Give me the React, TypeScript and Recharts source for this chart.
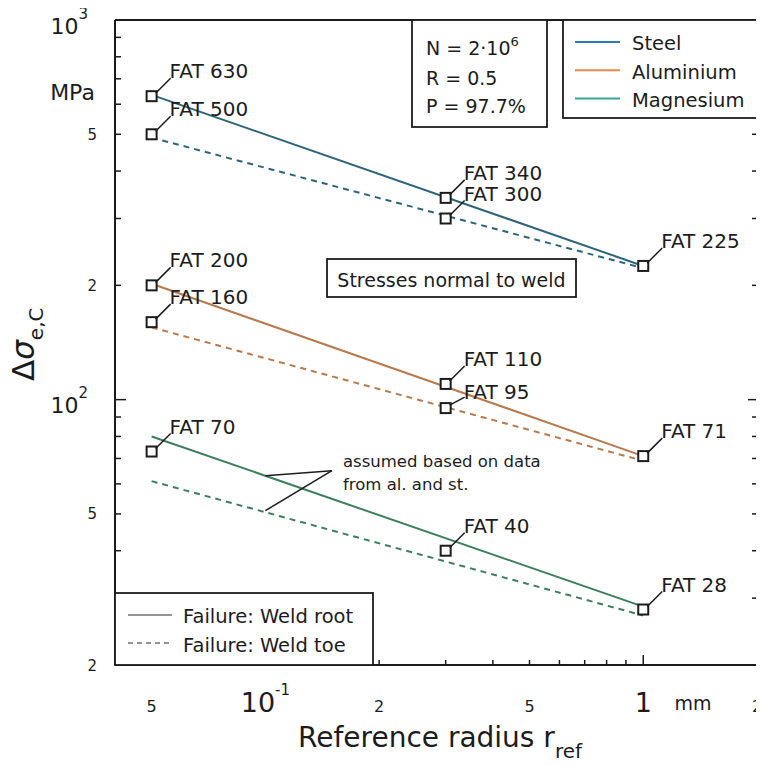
import React from "react";
import { ComposedChart, Line, Scatter, XAxis, YAxis, ReferenceLine } from "recharts";

const INK = "#1c1c1c";
const FONT = "'DejaVu Sans', sans-serif";

// axes (log-log)
const xDomain = [0.04, 2];
const yDomain = [20, 1000];
const xTicks = [0.05, 0.06, 0.07, 0.08, 0.09, 0.1, 0.2, 0.3, 0.4, 0.5, 0.6, 0.7, 0.8, 0.9, 1, 2];
const xMajor = [0.1, 1];
const xLabelValues = [0.05, 0.1, 0.2, 0.5, 1, 2];
const xLabelTexts = ["5", "10^-1", "2", "5", "1", "2"];
const yTicks = [20, 30, 40, 50, 60, 70, 80, 90, 100, 200, 300, 400, 500, 600, 700, 800, 900, 1000];
const yMajor = [100, 1000];
const yLabelValues = [20, 50, 100, 200, 500, 1000];
const yLabelTexts = ["2", "5", "10^2", "2", "5", "10^3"];

// S-N reference lines, r in mm, s in MPa
const steelRoot = [{ r: 0.05, s: 635 }, { r: 1, s: 225 }];
const steelToe = [{ r: 0.05, s: 490 }, { r: 1, s: 222 }];
const aluRoot = [{ r: 0.05, s: 202 }, { r: 1, s: 71 }];
const aluToe = [{ r: 0.05, s: 155 }, { r: 1, s: 69 }];
const magRoot = [{ r: 0.05, s: 80 }, { r: 1, s: 28.5 }];
const magToe = [{ r: 0.05, s: 61 }, { r: 1, s: 27 }];

// FAT classes
const steelFat = [
  { r: 0.05, s: 630, label: "FAT 630" },
  { r: 0.05, s: 500, label: "FAT 500" },
  { r: 0.3, s: 340, label: "FAT 340" },
  { r: 0.3, s: 300, label: "FAT 300" },
  { r: 1, s: 225, label: "FAT 225" },
];
const aluFat = [
  { r: 0.05, s: 200, label: "FAT 200" },
  { r: 0.05, s: 160, label: "FAT 160" },
  { r: 0.3, s: 110, label: "FAT 110" },
  { r: 0.3, s: 95, label: "FAT 95" },
  { r: 1, s: 71, label: "FAT 71" },
];
const magFat = [
  { r: 0.05, s: 73, label: "FAT 70" },
  { r: 0.3, s: 40, label: "FAT 40" },
  { r: 1, s: 28, label: "FAT 28" },
];
const shallowLabels = ["FAT 95"];

// leaders of the "assumed ..." note
const noteLeaders = [
  [{ r: 0.15, s: 65 }, { r: 0.1, s: 63 }],
  [{ r: 0.15, s: 65 }, { r: 0.1, s: 51 }],
];

const materials = ["Steel", "Aluminium", "Magnesium"];
const legendColors = ["#2b7bb9", "#f08a45", "#33a89a"];
const lineColors = { steel: "#2e6479", alu: "#b8794c", mag: "#3d7e5e" };

function powLabel(text: string, x: number, y: number, anchor: string, big: number, small: number, supDy: number) {
  const [base, exp] = text.split("^");
  return (
    <text x={x} y={y} textAnchor={anchor} fontSize={exp ? big : small} fill={INK} fontFamily={FONT}>
      <tspan>{base}</tspan>
      {exp && (
        <tspan dy={supDy} fontSize={15}>
          {exp}
        </tspan>
      )}
    </text>
  );
}

function BottomTick(props: any) {
  const { x, y, payload } = props;
  const v = payload.value;
  const idx = xLabelValues.indexOf(v);
  const big = xMajor.includes(v);
  const len = big ? 10 : 5;
  return (
    <g>
      {v < xDomain[1] && <line x1={x} y1={y} x2={x} y2={y - len} stroke={INK} strokeWidth={1.5} />}
      {idx >= 0 &&
        (big ? (
          powLabel(xLabelTexts[idx], x, y + 47, "middle", 27, 27, -17)
        ) : (
          <text x={x} y={y + 47} textAnchor="middle" fontSize={16} fill={INK} fontFamily={FONT}>
            {xLabelTexts[idx]}
          </text>
        ))}
    </g>
  );
}

function TopTick(props: any) {
  const { x, y, payload } = props;
  const v = payload.value;
  if (v >= xDomain[1]) return <g />;
  const len = xMajor.includes(v) ? 10 : 5;
  return <line x1={x} y1={y} x2={x} y2={y + len} stroke={INK} strokeWidth={1.5} />;
}

function LeftTick(props: any) {
  const { x, y, payload } = props;
  const v = payload.value;
  const idx = yLabelValues.indexOf(v);
  const len = yMajor.includes(v) ? 11 : 6;
  const text = idx >= 0 ? yLabelTexts[idx] : null;
  return (
    <g>
      {v > yDomain[0] && v < yDomain[1] && (
        <line x1={x} y1={y} x2={x + len} y2={y} stroke={INK} strokeWidth={1.5} />
      )}
      {text &&
        (text.includes("^")
          ? powLabel(text, x - 27, y + 13.5, "end", 22, 22, -15)
          : (
            <text x={x - 18} y={y + 5.5} textAnchor="end" fontSize={15} fill={INK} fontFamily={FONT}>
              {text}
            </text>
          ))}
    </g>
  );
}

function RightTick(props: any) {
  const { x, y, payload } = props;
  const v = payload.value;
  if (v <= yDomain[0] || v >= yDomain[1]) return <g />;
  const len = yMajor.includes(v) ? 9 : 5;
  return <line x1={x} y1={y} x2={x - len} y2={y} stroke={INK} strokeWidth={1.5} />;
}

function FatMarker(props: any) {
  const { cx, cy, payload } = props;
  if (cx == null || cy == null) return <g />;
  const low = shallowLabels.includes(payload.label);
  const ty = low ? cy - 9 : cy - 18;
  return (
    <g>
      <rect x={cx - 5} y={cy - 5} width={10} height={10} fill="#fff" stroke={INK} strokeWidth={2} />
      <line x1={cx + 4} y1={cy - 3} x2={cx + 19} y2={low ? cy - 11 : cy - 18} stroke={INK} strokeWidth={1.5} />
      <text x={cx + 18} y={ty} fontSize={20} fill={INK} fontFamily={FONT}>
        {payload.label}
      </text>
    </g>
  );
}

function Overlay() {
  const t = { fontFamily: FONT, fill: INK };
  return (
    <svg
      width={756}
      height={757}
      style={{ position: "absolute", left: 0, top: 0, pointerEvents: "none", overflow: "visible" }}
    >
      {/* parameters */}
      <rect x={404} y={12} width={135} height={107} fill="#fff" stroke={INK} strokeWidth={1.8} />
      <text x={418} y={47} fontSize={19} {...t}>
        N = 2·10<tspan dy={-9} fontSize={13}>6</tspan>
      </text>
      <text x={418} y={77} fontSize={19} {...t}>R = 0.5</text>
      <text x={418} y={105} fontSize={19} {...t}>P = 97.7%</text>

      {/* material legend */}
      <rect x={555} y={12} width={194} height={98} fill="#fff" stroke={INK} strokeWidth={1.8} />
      {materials.map((m, i) => (
        <g key={m}>
          <line x1={567} x2={612} y1={34 + i * 28.3} y2={34 + i * 28.3} stroke={legendColors[i]} strokeWidth={2} />
          <text x={624} y={42 + i * 28.5} fontSize={19.5} {...t}>{m}</text>
        </g>
      ))}

      {/* loading note */}
      <rect x={319} y={251} width={249} height={38} fill="#fff" stroke={INK} strokeWidth={1.8} />
      <text x={443.5} y={279} fontSize={19} textAnchor="middle" {...t}>Stresses normal to weld</text>

      {/* failure legend */}
      <rect x={107} y={585} width={258} height={72} fill="#fff" stroke={INK} strokeWidth={1.8} />
      <line x1={120} x2={164} y1={607} y2={607} stroke="#707070" strokeWidth={1.5} />
      <line x1={120} x2={164} y1={635} y2={635} stroke="#707070" strokeWidth={1.5} strokeDasharray="5 4" />
      <text x={175} y={615} fontSize={19.5} {...t}>Failure: Weld root</text>
      <text x={175} y={644} fontSize={19.5} {...t}>Failure: Weld toe</text>

      <text x={335} y={459} fontSize={16.5} {...t}>assumed based on data</text>
      <text x={335} y={482} fontSize={16.5} {...t}>from al. and st.</text>

      {/* units and titles */}
      <text x={64.5} y={92} fontSize={22} textAnchor="middle" {...t}>MPa</text>
      <text x={685} y={702} fontSize={19} textAnchor="middle" {...t}>mm</text>
      <text x={290} y={739} fontSize={28} {...t}>
        Reference radius r<tspan dy={11} fontSize={20}>ref</tspan>
      </text>
      <text transform="translate(26,373) rotate(-90)" fontSize={31} {...t}>
        Δ<tspan fontStyle="italic">σ</tspan>
        <tspan dy={9} fontSize={20}>e,C</tspan>
      </text>
    </svg>
  );
}

export default function App() {
  const axisLine = { stroke: INK, strokeWidth: 2 };
  return (
    <div style={{ position: "relative", width: 756, height: 757, fontFamily: FONT }}>
      <ComposedChart width={756} height={757} margin={{ top: 11, right: 6, bottom: 99, left: 106 }}>
        <XAxis
          dataKey="r"
          type="number"
          scale="log"
          domain={xDomain}
          allowDataOverflow
          ticks={xTicks}
          interval={0}
          tick={(p: any) => <BottomTick {...p} />}
          tickLine={false}
          tickSize={0}
          tickMargin={0}
          axisLine={axisLine}
          height={1}
        />
        <XAxis
          xAxisId="top"
          orientation="top"
          type="number"
          scale="log"
          domain={xDomain}
          allowDataOverflow
          ticks={xTicks}
          interval={0}
          tick={(p: any) => <TopTick {...p} />}
          tickLine={false}
          tickSize={0}
          tickMargin={0}
          axisLine={axisLine}
          height={1}
        />
        <YAxis
          dataKey="s"
          type="number"
          scale="log"
          domain={yDomain}
          allowDataOverflow
          ticks={yTicks}
          interval={0}
          tick={(p: any) => <LeftTick {...p} />}
          tickLine={false}
          tickSize={0}
          tickMargin={0}
          axisLine={axisLine}
          width={1}
        />
        <YAxis
          yAxisId="right"
          orientation="right"
          type="number"
          scale="log"
          domain={yDomain}
          allowDataOverflow
          ticks={yTicks}
          interval={0}
          tick={(p: any) => <RightTick {...p} />}
          tickLine={false}
          tickSize={0}
          tickMargin={0}
          axisLine={axisLine}
          width={1}
        />

        <Line data={steelRoot} dataKey="s" type="linear" stroke={lineColors.steel} strokeWidth={2} dot={false} isAnimationActive={false} />
        <Line data={steelToe} dataKey="s" type="linear" stroke={lineColors.steel} strokeWidth={2} strokeDasharray="6 5" dot={false} isAnimationActive={false} />
        <Line data={aluRoot} dataKey="s" type="linear" stroke={lineColors.alu} strokeWidth={2} dot={false} isAnimationActive={false} />
        <Line data={aluToe} dataKey="s" type="linear" stroke={lineColors.alu} strokeWidth={2} strokeDasharray="6 5" dot={false} isAnimationActive={false} />
        <Line data={magRoot} dataKey="s" type="linear" stroke={lineColors.mag} strokeWidth={2} dot={false} isAnimationActive={false} />
        <Line data={magToe} dataKey="s" type="linear" stroke={lineColors.mag} strokeWidth={2} strokeDasharray="6 5" dot={false} isAnimationActive={false} />

        {noteLeaders.map((seg, i) => (
          <ReferenceLine
            key={i}
            segment={seg.map((p) => ({ x: p.r, y: p.s }))}
            stroke={INK}
            strokeWidth={1.5}
            ifOverflow="visible"
          />
        ))}

        <Scatter data={steelFat} dataKey="s" shape={(p: any) => <FatMarker {...p} />} isAnimationActive={false} />
        <Scatter data={aluFat} dataKey="s" shape={(p: any) => <FatMarker {...p} />} isAnimationActive={false} />
        <Scatter data={magFat} dataKey="s" shape={(p: any) => <FatMarker {...p} />} isAnimationActive={false} />
      </ComposedChart>
      <Overlay />
    </div>
  );
}
